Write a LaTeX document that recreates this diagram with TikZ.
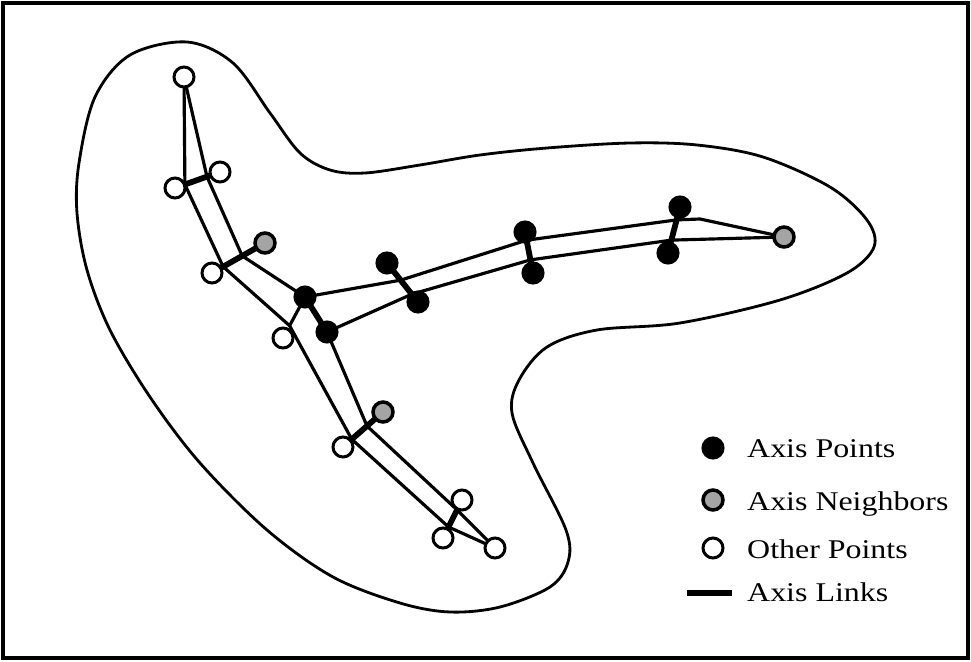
\documentclass[tikz,border=0pt]{standalone}
\usepackage{fontspec}
\setmainfont{Liberation Serif}[FakeStretch=1.18]
\usetikzlibrary{backgrounds, calc}
\definecolor{speckle}{HTML}{A4A4A4}
\tikzset{
  axis point/.style={circle, fill=black, draw=black, minimum size=0.42cm, inner sep=0pt, line width=1.2pt},
  axis neighbor/.style={circle, fill=speckle, draw=black, minimum size=0.4cm, inner sep=0pt, line width=2pt},
  other point/.style={circle, fill=white, draw=black, minimum size=0.4cm, inner sep=0pt, line width=1.7pt},
  axis link/.style={line width=3.3pt, black},
  band line/.style={line width=1.8pt, black, line join=round},
  outline/.style={line width=1.6pt, black},
  key text/.style={anchor=base west, font=\fontsize{15.4}{18}\selectfont}
}

\begin{document}
\begin{tikzpicture}[x=0.02cm, y=-0.02cm]
  \useasboundingbox (0,0) rectangle (971,662);
  % --- frame ---
  \draw[line width=1.8pt] (3,3) rectangle (968,658);

  % --- the shape ---
  \draw[outline] plot[smooth cycle, tension=0.55] coordinates {
    (187,42) (233,63) (270,113) (300,153) (330,170) (365,173) (420,165)
    (480,155) (547,148) (630,143) (697,145) (763,157) (830,187) (867,220)
    (874,247) (847,273) (780,300) (680,323) (597,330) (547,347) (519,380)
    (512,413) (533,463) (566,530) (568,562) (550,587) (500,607) (450,612)
    (400,603) (333,577) (267,530) (200,463) (150,397) (110,330) (87,270)
    (77,213) (79,163) (95,97) (130,55)};

  % --- points ---
  \foreach \name/\x/\y in {O1/184/77, O2/175/188, O3/220/172, O4/212/273,
      O5/283/338, O6/343/447, O7/462/500, O8/443/538, O9/495/548}
    \node[other point] (\name) at (\x,\y) {};
  \foreach \name/\x/\y in {N1/265/243, N2/784/237, N3/383/412}
    \node[axis neighbor] (\name) at (\x,\y) {};
  \foreach \name/\x/\y in {A1/305/297, A2/327/332, A3/387/263, A4/418/302,
      A5/525/232, A6/533/273, A7/680/207, A8/668/253}
    \node[axis point] (\name) at (\x,\y) {};

  % --- band corners on the links ---
  \coordinate (L1) at ($(O2)!0.22!(O3)$);
  \coordinate (R1) at ($(O2)!0.71!(O3)$);
  \coordinate (L2) at ($(O4)!0.21!(N1)$);
  \coordinate (R2) at ($(O4)!0.57!(N1)$);
  \coordinate (J)  at ($(O5)!0.3!(A1)$);
  \coordinate (U1) at ($(A3)!0.44!(A4)$);
  \coordinate (D1) at ($(A3)!0.8!(A4)$);
  \coordinate (U2) at ($(A5)!0.2!(A6)$);
  \coordinate (D2) at ($(A5)!0.68!(A6)$);
  \coordinate (U3) at ($(A7)!0.28!(A8)$);
  \coordinate (D3) at ($(A7)!0.72!(A8)$);
  \coordinate (U4) at (700,219);
  \coordinate (L3) at ($(N3)!0.78!(O6)$);
  \coordinate (R3) at ($(N3)!0.4!(O6)$);
  \coordinate (L4) at ($(O7)!0.71!(O8)$);
  \coordinate (R4) at ($(O7)!0.26!(O8)$);

  \begin{scope}[on background layer]
    % band lines
    \draw[band line] (O1.center) -- (L1) -- (L2) -- (J) -- (A1.center);
    \draw[band line] (J) -- (L3) -- (L4) -- (O9.center);
    \draw[band line] (O1.center) -- (R1) -- (R2) -- (A1.center)
      -- (U1) -- (U2) -- (U3) -- (U4) -- (N2.center);
    \draw[band line] (A2.center) -- (D1) -- (D2) -- (D3) -- (N2.center);
    \draw[band line] (A2.center) -- (R3) -- (R4) -- (O9.center);
    % axis links
    \foreach \a/\b in {O2/O3, O4/N1, A1/A2, A3/A4, A5/A6, A7/A8, N3/O6, O7/O8}
      \draw[axis link] (\a.center) -- (\b.center);
  \end{scope}

  % --- key ---
  \node[axis point] (key A) at (713,448) {};
  \node[axis neighbor] (key N) at (713,500) {};
  \node[other point] (key O) at (713,548) {};
  \coordinate (key L1) at (687,593);
  \coordinate (key L2) at (732,593);
  \draw[axis link] (key L1) -- (key L2);
  \node[key text] (key A text) at (741,458) {Axis Points};
  \node[key text] (key N text) at (741,510) {Axis Neighbors};
  \node[key text] (key O text) at (741,558) {Other Points};
  \node[key text] (key L text) at (741,601) {Axis Links};
\end{tikzpicture}
\end{document}
